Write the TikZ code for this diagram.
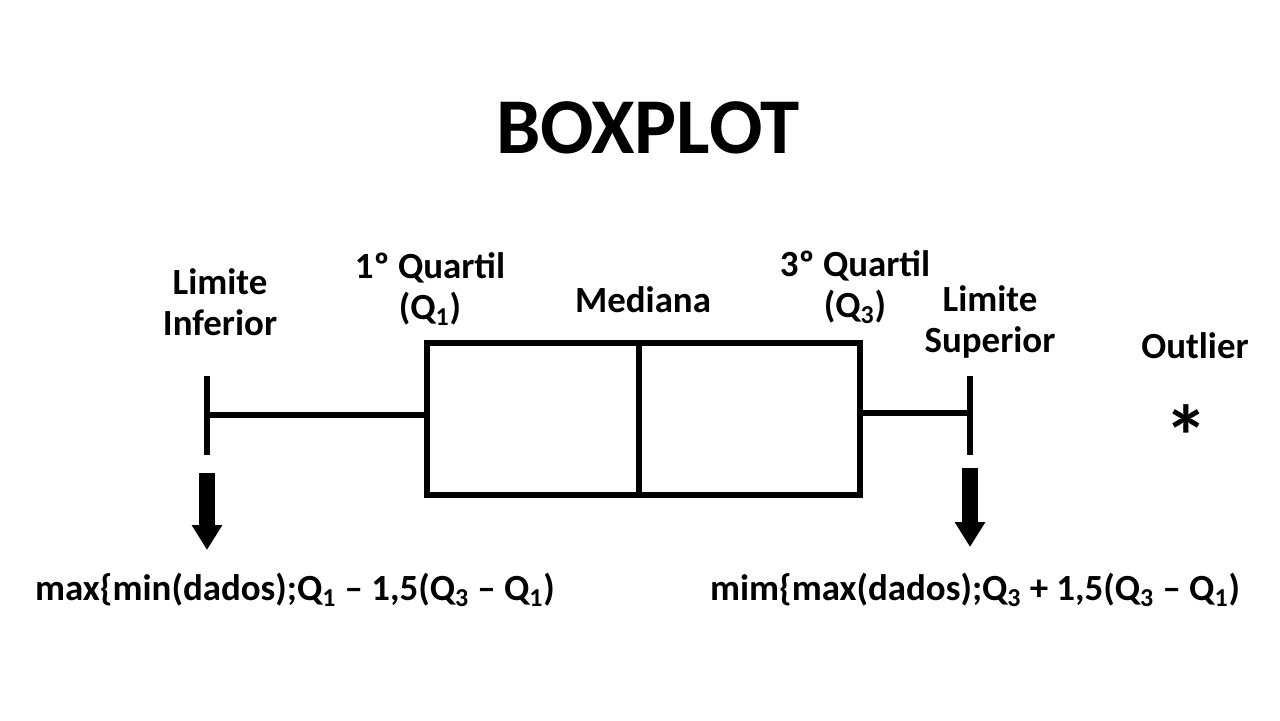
\documentclass[tikz,border=0pt]{standalone}
\usepackage{fontspec}
\setmainfont{Carlito}
\usetikzlibrary{arrows.meta, positioning}
\tikzstyle{title} = [font=\bfseries\fontsize{45}{54}\selectfont]
\tikzstyle{tag} = [font=\bfseries\fontsize{21}{23.3}\selectfont, align=center]
\tikzstyle{formula} = [font=\bfseries\fontsize{21}{25}\selectfont]
\tikzstyle{boxline} = [line width=0.12cm]
\tikzstyle{bigarrow} = [line width=0.32cm, -{Triangle[width=0.58cm,length=0.5cm]}]

\begin{document}
\begin{tikzpicture}[x=0.02cm, y=-0.02cm]
    \useasboundingbox (0,0) rectangle (1280,720);
    % Title
    \node (title) [title] at (648,128) {BOXPLOT};

    % Box and whiskers
    \coordinate (q1top) at (427,343);
    \coordinate (q3bot) at (860,495);
    \coordinate (medtop) at (639,343);
    \coordinate (medbot) at (639,495);
    \coordinate (lowtop) at (207,376);
    \coordinate (lowbot) at (207,455);
    \coordinate (uptop) at (970,376);
    \coordinate (upbot) at (970,455);
    \draw [boxline] (q1top) rectangle (q3bot);
    \draw [boxline] (medtop) -- (medbot);
    \draw [boxline] (lowtop) -- (lowbot);
    \draw [boxline] (uptop) -- (upbot);
    \draw [boxline] (207,415) -- (427,415);
    \draw [boxline] (860,413) -- (970,413);

    % Labels
    \node (lowlab) [tag] at (220,302) {Limite\\Inferior};
    \node (q1lab) [tag] at (430,289) {1º Quartil\\(Q\textsubscript{1})};
    \node (medlab) [tag] at (643,300) {Mediana};
    \node (q3lab) [tag] at (855,287) {3º Quartil\\(Q\textsubscript{3})};
    \node (uplab) [tag] at (990,322) {Limite\\Superior};
    \node (outlab) [tag] at (1195,346) {Outlier};
    \node (outlier) [font=\bfseries\fontsize{50}{60}\selectfont, inner sep=0, anchor=north] at (1186,404) {*};

    % Arrows
    \coordinate (lowarr) at (207,473);
    \coordinate (lowend) at (207,550);
    \coordinate (uparr) at (970,468);
    \coordinate (upend) at (970,547);
    \draw [bigarrow] (lowarr) -- (lowend);
    \draw [bigarrow] (uparr) -- (upend);

    % Formulas
    \node (lowform) [formula] at (295,590) {max\{min(dados);Q\textsubscript{1} – 1,5(Q\textsubscript{3} – Q\textsubscript{1})};
    \node (upform) [formula] at (975,590) {mim\{max(dados);Q\textsubscript{3} + 1,5(Q\textsubscript{3} – Q\textsubscript{1})};
\end{tikzpicture}
\end{document}
